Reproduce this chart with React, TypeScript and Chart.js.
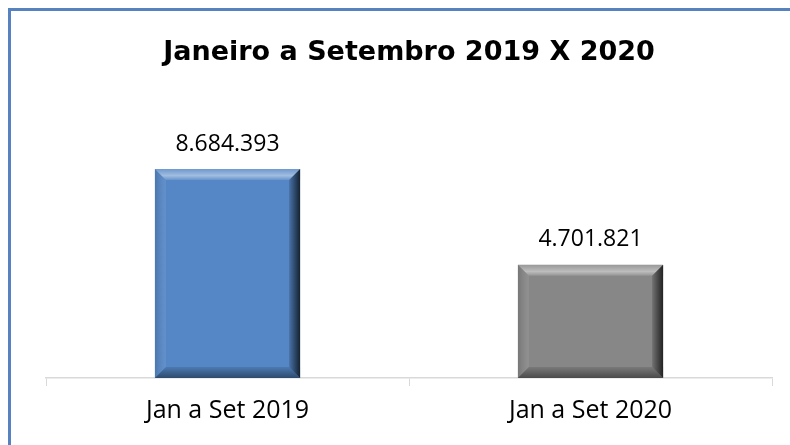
import React, { useEffect, useRef } from "react";
import { Chart, registerables } from "chart.js";

Chart.register(...registerables);

const categories: string[] = ["Jan a Set 2019", "Jan a Set 2020"];
const values: number[] = [8684393, 4701821];
const valueLabels: string[] = ["8.684.393", "4.701.821"];
const barColors: string[] = ["#5587c6", "#878787"];
const titleText = "Janeiro a Setembro 2019 X 2020";

const FONT = "'Open Sans', 'DejaVu Sans', sans-serif";
const TITLE_FONT = "'DejaVu Sans', 'Open Sans', sans-serif";

const framePlugin = {
  id: "frame",
  beforeDraw(chart: any) {
    const ctx = chart.ctx as CanvasRenderingContext2D;
    ctx.save();
    ctx.fillStyle = "#fff";
    ctx.fillRect(0, 0, chart.width, chart.height);
    ctx.strokeStyle = "#5683c0";
    ctx.lineWidth = 3;
    ctx.beginPath();
    ctx.moveTo(9.5, chart.height + 5);
    ctx.lineTo(9.5, 9.5);
    ctx.lineTo(chart.width + 5, 9.5);
    ctx.stroke();
    ctx.restore();
  },
};

const bevelPlugin = {
  id: "bevel",
  afterDatasetsDraw(chart: any) {
    const ctx = chart.ctx as CanvasRenderingContext2D;
    const meta = chart.getDatasetMeta(0);
    meta.data.forEach((bar: any) => {
      const p = bar.getProps(["x", "y", "base", "width"], true);
      const l = p.x - p.width / 2;
      const r = p.x + p.width / 2;
      const t = Math.min(p.y, p.base);
      const b = Math.max(p.y, p.base);
      const s = 11;
      ctx.save();
      let g = ctx.createLinearGradient(0, t, 0, t + s);
      g.addColorStop(0, "rgba(255,255,255,0.15)");
      g.addColorStop(0.6, "rgba(255,255,255,0.45)");
      g.addColorStop(1, "rgba(255,255,255,0.1)");
      ctx.fillStyle = g;
      ctx.beginPath();
      ctx.moveTo(l, t); ctx.lineTo(r, t); ctx.lineTo(r - s, t + s); ctx.lineTo(l + s, t + s); ctx.closePath();
      ctx.fill();
      g = ctx.createLinearGradient(l, 0, l + s, 0);
      g.addColorStop(0, "rgba(0,0,0,0.12)");
      g.addColorStop(1, "rgba(255,255,255,0.08)");
      ctx.fillStyle = g;
      ctx.beginPath();
      ctx.moveTo(l, t); ctx.lineTo(l + s, t + s); ctx.lineTo(l + s, b - s); ctx.lineTo(l, b); ctx.closePath();
      ctx.fill();
      g = ctx.createLinearGradient(r - s, 0, r, 0);
      g.addColorStop(0, "rgba(0,0,0,0.15)");
      g.addColorStop(1, "rgba(0,0,0,0.75)");
      ctx.fillStyle = g;
      ctx.beginPath();
      ctx.moveTo(r, t); ctx.lineTo(r, b); ctx.lineTo(r - s, b - s); ctx.lineTo(r - s, t + s); ctx.closePath();
      ctx.fill();
      g = ctx.createLinearGradient(0, b - s, 0, b);
      g.addColorStop(0, "rgba(0,0,0,0.1)");
      g.addColorStop(1, "rgba(0,0,0,0.45)");
      ctx.fillStyle = g;
      ctx.beginPath();
      ctx.moveTo(l, b); ctx.lineTo(r, b); ctx.lineTo(r - s, b - s); ctx.lineTo(l + s, b - s); ctx.closePath();
      ctx.fill();
      ctx.restore();
    });
  },
};

const labelPlugin = {
  id: "valueLabels",
  afterDatasetsDraw(chart: any) {
    const ctx = chart.ctx as CanvasRenderingContext2D;
    const meta = chart.getDatasetMeta(0);
    ctx.save();
    ctx.font = `23px ${FONT}`;
    ctx.fillStyle = "#000";
    ctx.textAlign = "center";
    ctx.textBaseline = "middle";
    meta.data.forEach((bar: any, i: number) => {
      const p = bar.getProps(["x", "y"], true);
      ctx.fillText(valueLabels[i], p.x, p.y - 25);
    });
    ctx.restore();
  },
};

export default function App() {
  const ref = useRef<HTMLCanvasElement>(null);
  useEffect(() => {
    if (!ref.current) return;
    const chart = new Chart(ref.current, {
      type: "bar",
      data: {
        labels: categories,
        datasets: [
          {
            data: values,
            backgroundColor: barColors,
            borderWidth: 0,
            barPercentage: 0.4,
            categoryPercentage: 1,
          },
        ],
      },
      options: {
        animation: false,
        responsive: false,
        maintainAspectRatio: false,
        layout: { padding: { left: 46, right: 18, top: 0, bottom: 9 } },
        plugins: {
          legend: { display: false },
          tooltip: { enabled: false },
          title: {
            display: true,
            text: titleText,
            color: "#000",
            font: { family: TITLE_FONT, size: 27, weight: "bold", lineHeight: 1.2 },
            padding: { top: 37, bottom: 68 },
          },
        },
        scales: {
          x: {
            grid: {
              display: true,
              drawOnChartArea: false,
              drawTicks: true,
              tickLength: 8,
              color: "#d9d9d9",
              offset: true,
            },
            border: { display: true, color: "#d9d9d9", width: 1.5 },
            ticks: { color: "#000", padding: 10, font: { family: FONT, size: 25 } },
          },
          y: {
            display: false,
            min: 0,
            max: 10000000,
          },
        },
      },
      plugins: [framePlugin, bevelPlugin, labelPlugin],
    });
    return () => chart.destroy();
  }, []);
  return (
    <div style={{ position: "fixed", left: 0, top: 0, width: 790, height: 445, background: "#fff", overflow: "hidden" }}>
      <canvas ref={ref} width={790} height={445} style={{ position: "absolute", left: 0, top: 0 }} />
    </div>
  );
}
